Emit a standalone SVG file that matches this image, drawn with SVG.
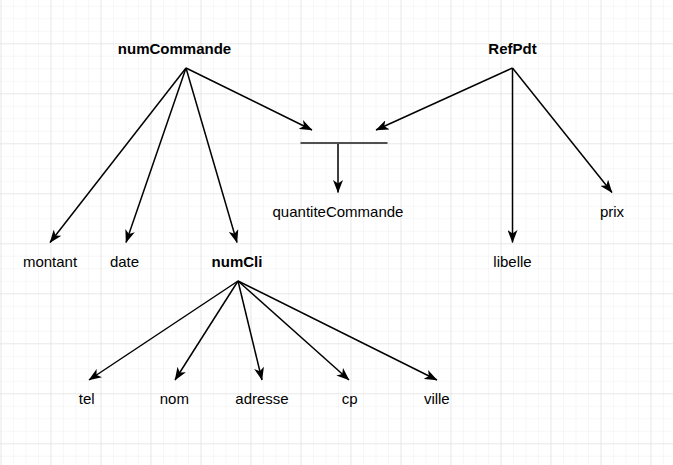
<svg xmlns="http://www.w3.org/2000/svg" width="673" height="465" viewBox="0 0 673 465">
<defs>
<pattern id="minor" patternUnits="userSpaceOnUse" x="0.5" y="5.8" width="12.5" height="12.5">
<path d="M0,0 H12.5 M0,0 V12.5" fill="none" stroke="#f0f0f0" stroke-width="1"/>
</pattern>
<pattern id="major" patternUnits="userSpaceOnUse" x="0.5" y="43.3" width="50" height="50">
<path d="M0,0 H50 M0,0 V50" fill="none" stroke="#dcdcdc" stroke-width="1"/>
</pattern>
<marker id="arr" viewBox="0 0 13 10" refX="12.5" refY="5" markerWidth="13" markerHeight="10" markerUnits="userSpaceOnUse" orient="auto">
<path d="M0,0 L13,5 L0,10 L3.5,5 Z" fill="#000"/>
</marker>
<style>
.t{font-family:"Liberation Sans",Arial,sans-serif;font-size:15px;fill:#000;text-anchor:middle}
.b{font-weight:bold}
.e{fill:none;stroke:#000;stroke-width:1.5;marker-end:url(#arr)}
</style>
</defs>
<rect width="673" height="465" fill="#fff"/>
<rect width="673" height="465" fill="url(#minor)"/>
<rect width="673" height="465" fill="url(#major)"/>
<g id="connectors">
<line class="e" x1="186" y1="68" x2="50" y2="242.5"/>
<line class="e" x1="186" y1="68" x2="126" y2="242.5"/>
<line class="e" x1="186" y1="68" x2="237" y2="242.5"/>
<line class="e" x1="186" y1="68" x2="312" y2="130"/>
<line class="e" x1="512.5" y1="68" x2="376" y2="130"/>
<line class="e" x1="512.5" y1="68" x2="512.5" y2="242.5"/>
<line class="e" x1="512.5" y1="68" x2="612" y2="192.5"/>
<line class="e" x1="338" y1="143" x2="338" y2="192.5"/>
<line class="e" x1="238" y1="281" x2="89" y2="380"/>
<line class="e" x1="238" y1="281" x2="175" y2="380"/>
<line class="e" x1="238" y1="281" x2="262" y2="380"/>
<line class="e" x1="238" y1="281" x2="349" y2="380"/>
<line class="e" x1="238" y1="281" x2="437" y2="380"/>
</g>
<g id="junction">
<line x1="300.5" y1="143" x2="387.5" y2="143" stroke="#505050" stroke-width="2"/>
</g>
<g id="numCommande"><text class="t b" x="174.5" y="54">numCommande</text></g>
<g id="RefPdt"><text class="t b" x="512.5" y="54">RefPdt</text></g>
<g id="quantiteCommande"><text class="t" x="338" y="217">quantiteCommande</text></g>
<g id="prix"><text class="t" x="612" y="217">prix</text></g>
<g id="montant"><text class="t" x="50" y="267">montant</text></g>
<g id="date"><text class="t" x="124.5" y="267">date</text></g>
<g id="numCli"><text class="t b" x="237" y="267">numCli</text></g>
<g id="libelle"><text class="t" x="512.5" y="267">libelle</text></g>
<g id="tel"><text class="t" x="86.7" y="403.5">tel</text></g>
<g id="nom"><text class="t" x="174.3" y="403.5">nom</text></g>
<g id="adresse"><text class="t" x="262" y="403.5">adresse</text></g>
<g id="cp"><text class="t" x="349.7" y="403.5">cp</text></g>
<g id="ville"><text class="t" x="436.8" y="403.5">ville</text></g>
</svg>
